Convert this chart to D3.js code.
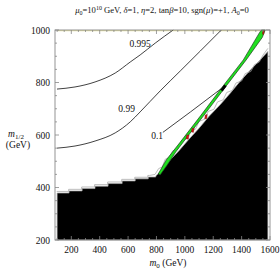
<!DOCTYPE html>
<html>
<head>
<meta charset="utf-8">
<script src="https://cdn.jsdelivr.net/npm/d3@7"></script>
<style>
  body { margin: 0; background: #fff; }
  svg text { font-family: "Liberation Serif", "DejaVu Serif", serif; fill: #111; }
</style>
</head>
<body>
<svg id="chart" width="280" height="280"></svg>
<script>
// axis ticks
const xTicks = [200, 400, 600, 800, 1000, 1200, 1400, 1600];
const yTicks = [200, 400, 600, 800, 1000];

// excluded region (black): staircase then diagonal edge
const stepM0 = [100, 184, 276, 367, 459, 558, 650, 742];
const stepLevel = [379, 387, 396, 405, 415, 425, 433, 440];
const diagEdge = [[795, 444], [850, 472], [897, 505], [960, 541], [1024, 581], [1100, 626],
  [1172, 672], [1250, 716], [1321, 760], [1390, 805], [1462, 848], [1530, 886], [1585, 918]];

// gray contour running alongside the excluded region
const edgeLine = [[752, 446], [790, 450], [815, 472], [840, 478], [862, 508], [890, 514],
  [915, 540], [950, 546], [975, 578], [1010, 585], [1035, 614], [1075, 622], [1100, 652],
  [1140, 660], [1165, 690], [1205, 698], [1230, 726], [1270, 734], [1295, 762], [1335, 770],
  [1360, 798], [1400, 806], [1425, 834], [1465, 842], [1490, 868], [1525, 878], [1550, 904], [1585, 930]];

// relic density band (green)
const bandLeft = [[812, 451], [869, 505], [968, 573], [1109, 672], [1264, 783], [1412, 886], [1525, 989], [1539, 1000]];
const bandRight = [[1566, 1000], [1546, 972], [1432, 886], [1286, 783], [1130, 672], [1000, 581], [935, 535], [876, 486], [826, 448]];

// small red patches beside the band and the black spot on it
const redSpots = [
  [[1008, 586], [1024, 584], [1030, 600], [1014, 600]],
  [[1046, 612], [1060, 610], [1066, 626], [1052, 626]],
  [[1140, 662], [1154, 662], [1158, 678], [1144, 676]],
  [[1546, 984], [1556, 984], [1560, 998], [1550, 998]]
];
const blackSpot = [[1250, 772], [1266, 766], [1294, 786], [1278, 792]];

// contours of the plotted quantity
const contours = [
  { label: "0.995", pts: [[99, 775], [226, 783], [367, 802], [509, 836], [615, 878], [685, 905], [791, 950], [918, 1000]], at: [685, 948] },
  { label: "0.99", pts: [[99, 550], [226, 558], [367, 577], [509, 608], [615, 650], [685, 688], [826, 768], [968, 844], [1109, 920], [1257, 1000]], at: [590, 700] },
  { label: "0.1", pts: [[845, 610], [1040, 688], [1255, 776]], at: [805, 596] }
];

const svg = d3.select("#chart");
const x = d3.scaleLinear().domain([85, 1600]).range([55, 270]);
const y = d3.scaleLinear().domain([200, 1000]).range([240, 30]);

const lineXY = d3.line().x(d => x(d[0])).y(d => y(d[1]));

// pale line along the top edge
svg.append("path")
  .attr("d", lineXY([[100, 998], [1530, 998]]))
  .attr("stroke", "#e4e0a8").attr("stroke-width", 1.2).attr("fill", "none");

// black excluded region
let blackPoly = [[100, 200]];
stepM0.forEach((m, i) => {
  blackPoly.push([m, stepLevel[i]]);
  const next = i + 1 < stepM0.length ? stepM0[i + 1] : diagEdge[0][0];
  blackPoly.push([next, stepLevel[i]]);
});
blackPoly = blackPoly.concat(diagEdge, [[1585, 200]]);
svg.append("path")
  .attr("d", lineXY(blackPoly) + "Z")
  .attr("fill", "#000").attr("stroke", "#aaa").attr("stroke-width", 0.7);

// gray outline above staircase + along diagonal
let outline = [];
stepM0.forEach((m, i) => {
  const next = i + 1 < stepM0.length ? stepM0[i + 1] : edgeLine[0][0];
  outline.push([m - 3, stepLevel[i] + 6], [next - 3, stepLevel[i] + 6]);
});
outline = outline.concat(edgeLine);
svg.append("path")
  .attr("d", lineXY(outline))
  .attr("stroke", "#a0a0a0").attr("stroke-width", 0.7).attr("fill", "none");

// green band
svg.append("path")
  .attr("d", lineXY(bandLeft.concat(bandRight)) + "Z")
  .attr("fill", "#1fe01f").attr("stroke", "#1b3b1b").attr("stroke-width", 0.7);

svg.selectAll(".red").data(redSpots).enter().append("path")
  .attr("d", d => lineXY(d) + "Z")
  .attr("fill", "#e01010").attr("stroke", "#5a1010").attr("stroke-width", 0.4);

svg.append("path")
  .attr("d", lineXY(blackSpot) + "Z")
  .attr("fill", "#000");

// contours
const curve = d3.line().x(d => x(d[0])).y(d => y(d[1])).curve(d3.curveMonotoneX);
contours.forEach(c => {
  svg.append("path").attr("d", curve(c.pts))
    .attr("stroke", "#111").attr("stroke-width", 0.8).attr("fill", "none");
  svg.append("text")
    .attr("x", x(c.at[0])).attr("y", y(c.at[1]) + 3)
    .attr("text-anchor", "middle").attr("font-size", 9.5)
    .text(c.label);
});

// frame
svg.append("rect")
  .attr("x", 55).attr("y", 30).attr("width", 215).attr("height", 210)
  .attr("fill", "none").attr("stroke", "#888").attr("stroke-width", 0.9);

// ticks (inward, on all sides)
const xMinor = d3.range(100, 1601, 50).filter(v => v % 200 !== 0);
const yMinor = d3.range(200, 1001, 50).filter(v => v % 200 !== 0);
const tk = svg.append("g").attr("stroke", "#888").attr("stroke-width", 0.8);
xTicks.forEach(v => {
  tk.append("line").attr("x1", x(v)).attr("x2", x(v)).attr("y1", 240).attr("y2", 236);
  tk.append("line").attr("x1", x(v)).attr("x2", x(v)).attr("y1", 30).attr("y2", 34);
});
xMinor.forEach(v => {
  tk.append("line").attr("x1", x(v)).attr("x2", x(v)).attr("y1", 240).attr("y2", 238);
  tk.append("line").attr("x1", x(v)).attr("x2", x(v)).attr("y1", 30).attr("y2", 32);
});
yTicks.forEach(v => {
  tk.append("line").attr("y1", y(v)).attr("y2", y(v)).attr("x1", 55).attr("x2", 59);
  tk.append("line").attr("y1", y(v)).attr("y2", y(v)).attr("x1", 270).attr("x2", 266);
});
yMinor.forEach(v => {
  tk.append("line").attr("y1", y(v)).attr("y2", y(v)).attr("x1", 55).attr("x2", 57);
  tk.append("line").attr("y1", y(v)).attr("y2", y(v)).attr("x1", 270).attr("x2", 268);
});

svg.selectAll(".xl").data(xTicks).enter().append("text")
  .attr("x", d => x(d)).attr("y", 253).attr("text-anchor", "middle")
  .attr("font-size", 9.5).text(d => d);
svg.selectAll(".yl").data(yTicks).enter().append("text")
  .attr("x", 50).attr("y", d => y(d) + 3.5).attr("text-anchor", "end")
  .attr("font-size", 9.5).text(d => d);

// axis titles
const xt = svg.append("text").attr("x", 168).attr("y", 266).attr("text-anchor", "middle").attr("font-size", 9.5);
xt.append("tspan").attr("font-style", "italic").text("m");
xt.append("tspan").attr("font-size", 7).attr("dy", 2).text("0");
xt.append("tspan").attr("dy", -2).text(" (GeV)");

const yt = svg.append("text").attr("x", 16).attr("y", 137).attr("text-anchor", "middle").attr("font-size", 9.5);
yt.append("tspan").attr("font-style", "italic").text("m");
yt.append("tspan").attr("font-size", 7).attr("dy", 2).text("1/2");
svg.append("text").attr("x", 18).attr("y", 148).attr("text-anchor", "middle").attr("font-size", 9.5).text("(GeV)");

// title
const tt = svg.append("text").attr("x", 162).attr("y", 13).attr("text-anchor", "middle").attr("font-size", 8.6);
tt.append("tspan").attr("font-style", "italic").text("μ");
tt.append("tspan").attr("font-size", 6).attr("dy", 1.5).text("0");
tt.append("tspan").attr("dy", -1.5).text("=10");
tt.append("tspan").attr("font-size", 6).attr("dy", -3).text("10");
tt.append("tspan").attr("dy", 3).text(" GeV, ");
tt.append("tspan").attr("font-style", "italic").text("δ");
tt.append("tspan").text("=1, ");
tt.append("tspan").attr("font-style", "italic").text("η");
tt.append("tspan").text("=2, tan");
tt.append("tspan").attr("font-style", "italic").text("β");
tt.append("tspan").text("=10, sgn(");
tt.append("tspan").attr("font-style", "italic").text("μ");
tt.append("tspan").text(")=+1, ");
tt.append("tspan").attr("font-style", "italic").text("A");
tt.append("tspan").attr("font-size", 6).attr("dy", 1.5).text("0");
tt.append("tspan").attr("dy", -1.5).text("=0");
</script>
</body>
</html>
